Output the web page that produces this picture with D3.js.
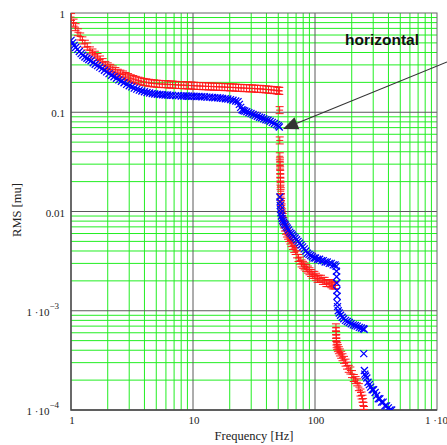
<!DOCTYPE html>
<meta charset="utf-8">
<html>
<head>
<title>RMS vs frequency</title>
<script src="https://d3js.org/d3.v7.min.js"></script>
<style>
  body { margin: 0; background: #fff; }
  .tick { font-family: "Liberation Serif", "DejaVu Serif", serif; font-size: 11px; fill: #222; }
  .title { font-family: "Liberation Serif", "DejaVu Serif", serif; font-size: 12.5px; fill: #222; }
  .note { font-family: "Liberation Sans", Arial, sans-serif; font-size: 15.5px; font-weight: bold; fill: #111; }
</style>
</head>
<body>
<svg width="447" height="445"></svg>
<script>
  // ticks
  var xTicks = [1, 10, 100, 1000];
  var xLabels = [["1"], ["10"], ["100"], ["1 \u00b710", "3"]];
  var yTicks = [1, 0.1, 0.01, 0.001, 0.0001];
  var yLabels = [["1"], ["0.1"], ["0.01"], ["1 \u00b710", "\u22123"], ["1 \u00b710", "\u22124"]];

  // red series  [frequency Hz, rms]
  var red = [
    [1.00,.91],[1.05,.80],[1.09,.72],[1.14,.64],[1.19,.58],[1.24,.53],[1.30,.49],[1.36,.46],
    [1.43,.42],[1.50,.40],[1.57,.38],[1.65,.36],[1.73,.34],[1.82,.32],[1.91,.30],[2.00,.29],
    [2.10,.28],[2.20,.27],[2.31,.26],[2.42,.25],[2.54,.245],[2.67,.24],[2.80,.232],[2.94,.226],
    [3.09,.22],[3.24,.216],[3.40,.212],[3.57,.208],[3.75,.205],[3.94,.202],[4.14,.20],[4.35,.198],
    [4.57,.196],[4.80,.195],[5.04,.194],[5.3,.193],[5.6,.192],[5.9,.192],[6.2,.191],[6.5,.19],
    [6.8,.19],[7.2,.189],[7.6,.188],[8.0,.188],[8.4,.187],[8.8,.187],[9.2,.186],[9.7,.186],
    [10.2,.185],[10.8,.184],[11.4,.184],[12.0,.183],[12.7,.183],[13.4,.182],[14.1,.182],[14.8,.181],
    [15.6,.181],[16.4,.18],[17.3,.18],[18.2,.179],[19.2,.179],[20.2,.178],[21.3,.178],[22.4,.177],
    [23.6,.176],[24.8,.176],[26.1,.175],[27.5,.175],[29.0,.174],[30.5,.174],[32.1,.173],[33.8,.172],
    [35.6,.172],[37.5,.171],[39.5,.17],[41.6,.169],[43.8,.168],[46.1,.167],[48.5,.166],[50.4,.165],
    [51.0,.164],
    [51.3,.105],[51.4,.052],[51.5,.036],[51.6,.032],[51.7,.029],[51.8,.026],[51.9,.024],[52.0,.022],
    [52.1,.020],[52.2,.018],[52.4,.016],[52.6,.014],[52.9,.0125],[53.3,.011],[53.8,.0098],[54.4,.0088],
    [55.1,.008],[55.9,.0074],[56.8,.0069],[57.8,.0064],[58.9,.006],[60.1,.0057],[61.4,.0054],[62.8,.0051],
    [64.3,.0048],[65.9,.0045],[67.6,.0042],[69.4,.004],[71.3,.0037],[73.3,.0034],[75.4,.0032],[77.6,.003],
    [79.9,.0029],[82.3,.0028],[84.8,.0027],[87.4,.0026],[90.1,.0025],[92.9,.0024],[95.8,.0023],[98.8,.0023],
    [102,.0022],[105,.0021],[108,.0021],[112,.0021],[116,.002],[120,.002],[124,.0019],[128,.0019],
    [132,.0019],[136,.00185],[140,.0018],[144,.0018],[147,.0018],
    [148.5,.00068],[148.8,.00062],[149.1,.00057],[149.4,.00053],[149.8,.00049],[150.5,.00046],[152,.00044],[154,.00042],
    [157,.0004],[160,.00038],[164,.00036],[168,.00034],[173,.00032],[178,.0003],[183,.00028],[189,.00026],
    [195,.00025],[201,.00023],[208,.00021],[215,.0002],[222,.00019],[229,.00017],[236,.00015],[241,.00014],
    [245,.00013],[248,.00012],[250,.00011],[252,.0001],[254,.00009]
  ];

  // blue series  [frequency Hz, rms]
  var blue = [
    [1.00,.53],[1.03,.50],[1.06,.47],[1.09,.45],[1.13,.43],[1.17,.41],[1.21,.39],[1.25,.375],
    [1.30,.36],[1.35,.35],[1.40,.34],[1.46,.33],[1.52,.315],[1.58,.305],[1.65,.295],[1.72,.285],
    [1.80,.275],[1.88,.265],[1.96,.255],[2.05,.245],[2.15,.236],[2.25,.228],[2.36,.22],[2.47,.212],
    [2.59,.205],[2.72,.198],[2.86,.191],[3.0,.185],[3.15,.18],[3.3,.175],[3.46,.171],[3.63,.167],
    [3.81,.164],[4.0,.161],[4.2,.158],[4.41,.156],[4.63,.154],[4.86,.153],[5.1,.152],[5.36,.151],
    [5.63,.15],[5.9,.149],[6.2,.149],[6.5,.148],[6.8,.148],[7.2,.147],[7.6,.147],[8.0,.146],
    [8.4,.146],[8.8,.146],[9.2,.145],[9.7,.145],[10.2,.145],[10.7,.144],[11.2,.144],[11.8,.143],
    [12.4,.143],[13.0,.142],[13.7,.142],[14.4,.141],[15.1,.14],[15.9,.14],[16.7,.139],[17.5,.138],
    [18.4,.137],[19.3,.136],[20.3,.134],[21.3,.132],[22.4,.13],[23.4,.128],[24.0,.12],[24.6,.112],
    [25.2,.106],[25.8,.104],[26.6,.103],[27.6,.101],[28.7,.099],[29.9,.097],[31.1,.095],[32.4,.093],
    [33.7,.091],[35.1,.089],[36.5,.088],[38.0,.086],[39.6,.084],[41.2,.083],[42.9,.081],[44.7,.079],
    [46.5,.077],[48.4,.075],[50.0,.073],[51.0,.071],
    [51.5,.014],[51.7,.0125],[51.9,.0115],[52.2,.0105],[52.6,.0097],[53.1,.009],[53.7,.0085],[54.4,.0081],
    [55.2,.0078],[56.1,.0075],[57.1,.0073],[58.2,.007],[59.4,.0068],[60.7,.0065],[62.1,.0062],[63.6,.006],
    [65.2,.0058],[66.9,.0056],[68.7,.0054],[70.6,.0052],[72.6,.005],[74.7,.0048],[76.9,.0046],[79.2,.0044],
    [81.6,.0042],[84.1,.004],[86.7,.0038],[89.4,.0037],[92.2,.0036],[95.1,.0035],[98.1,.0034],[101,.0034],
    [105,.0033],[109,.0033],[113,.0032],[117,.0032],[121,.0031],[126,.0031],[131,.003],[136,.003],
    [141,.0029],[146,.0029],[149,.0028],
    [150,.0025],[150.4,.0022],[150.8,.0019],[151.2,.0016],[151.6,.0014],[152,.0012],[153,.0011],[155,.001],
    [158,.00095],[162,.0009],[167,.00086],[172,.00083],[178,.0008],[184,.00078],[191,.00076],[198,.00074],
    [206,.00072],[214,.00071],[222,.0007],[231,.00068],[240,.00067],[249,.00066],[253,.00065],
    [251,.00037],
    [254,.00025],[256,.00023],[260,.00022],[266,.00021],[272,.00019],[279,.00018],[286,.00017],[294,.00016],
    [302,.00016],[311,.00015],[320,.00014],[330,.00013],[340,.00013],[351,.00012],[362,.00012],[374,.00011],
    [386,.00011],[399,.000105],[412,.0001],[425,.0001],[439,.00009]
  ];

  // annotation: text and arrow (tail, tip) in data units
  var noteText = "horizontal";
  var arrowTail = [1208, 0.321];
  var arrowTip = [54.7, 0.0678];

  var svg = d3.select("svg");
  var pLeft = 71, pRight = 437, pTop = 13, pBottom = 410;

  var x = d3.scaleLog().domain([1, 1000]).range([pLeft, pRight]);
  var y = d3.scaleLog().domain([1e-4, 1]).range([pBottom, pTop]);

  svg.append("defs").append("clipPath").attr("id", "clip")
    .append("rect").attr("x", pLeft).attr("y", pTop)
    .attr("width", pRight - pLeft).attr("height", pBottom - pTop);

  // minor grid
  var xMinor = [], yMinor = [];
  [1, 10, 100].forEach(function(d) { for (var k = 2; k < 10; k++) xMinor.push(d * k); });
  [1e-4, 1e-3, 1e-2, 1e-1].forEach(function(d) { for (var k = 2; k < 10; k++) yMinor.push(d * k); });

  var grid = svg.append("g");
  grid.selectAll(".gx").data(xMinor).enter().append("line")
    .attr("x1", x).attr("x2", x).attr("y1", pTop).attr("y2", pBottom)
    .attr("stroke", "#22ee22").attr("stroke-width", 1);
  grid.selectAll(".gy").data(yMinor).enter().append("line")
    .attr("y1", y).attr("y2", y).attr("x1", pLeft).attr("x2", pRight)
    .attr("stroke", "#22ee22").attr("stroke-width", 1);

  // major lines
  grid.selectAll(".mx").data([10, 100]).enter().append("line")
    .attr("x1", x).attr("x2", x).attr("y1", pTop).attr("y2", pBottom)
    .attr("stroke", "#5a5a5a");
  grid.selectAll(".my").data([0.1, 0.01, 0.001]).enter().append("line")
    .attr("y1", y).attr("y2", y).attr("x1", pLeft).attr("x2", pRight)
    .attr("stroke", "#5a5a5a");

  // frame
  svg.append("rect").attr("x", pLeft).attr("y", pTop)
    .attr("width", pRight - pLeft).attr("height", pBottom - pTop)
    .attr("fill", "none").attr("stroke", "#666");
  svg.append("path").attr("d", "M" + pLeft + "," + pTop + "V" + pBottom + "H" + pRight)
    .attr("fill", "none").attr("stroke", "#444").attr("stroke-width", 1.3);

  // data
  var plot = svg.append("g").attr("clip-path", "url(#clip)");
  plot.selectAll(".r").data(red).enter().append("path")
    .attr("transform", function(d) { return "translate(" + x(d[0]) + "," + y(d[1]) + ")"; })
    .attr("d", "M-4,-3.5H4M-3.5,0H3.5M-4,3.5H4M0,-3.5V3.5")
    .attr("fill", "none").attr("stroke", "#ff1a1a").attr("stroke-width", 1);
  plot.selectAll(".b").data(blue).enter().append("path")
    .attr("transform", function(d) { return "translate(" + x(d[0]) + "," + y(d[1]) + ")"; })
    .attr("d", "M-3.5,-3.5L3.5,3.5M-3.5,3.5L3.5,-3.5")
    .attr("fill", "none").attr("stroke", "#0000ff").attr("stroke-width", 1.3);

  // tick labels
  yTicks.forEach(function(v, i) {
    var lab = yLabels[i];
    var t = svg.append("text").attr("class", "tick")
      .attr("text-anchor", "end")
      .attr("x", lab.length > 1 ? 59 : 65)
      .attr("y", y(v) + 5)
      .text(lab[0]);
    if (lab.length > 1) t.append("tspan").attr("dy", -7).attr("font-size", "9px").text(lab[1]);
  });
  xTicks.forEach(function(v, i) {
    var lab = xLabels[i];
    var t = svg.append("text").attr("class", "tick")
      .attr("text-anchor", lab.length > 1 ? "start" : "middle")
      .attr("x", lab.length > 1 ? x(v) - 12 : x(v) + 1)
      .attr("y", 424)
      .text(lab[0]);
    if (lab.length > 1) t.append("tspan").attr("dy", -7).attr("font-size", "9px").text(lab[1]);
  });

  // axis titles
  svg.append("text").attr("class", "title")
    .attr("text-anchor", "middle").attr("x", 254).attr("y", 440)
    .text("Frequency [Hz]");
  svg.append("text").attr("class", "title")
    .attr("text-anchor", "middle")
    .attr("transform", "translate(21,210) rotate(-90)")
    .text("RMS [mu]");

  // annotation
  svg.append("text").attr("class", "note")
    .attr("x", 345).attr("y", 45).text(noteText);

  var tx = x(arrowTail[0]), ty = y(arrowTail[1]);
  var hx = x(arrowTip[0]), hy = y(arrowTip[1]);
  var dx = hx - tx, dy = hy - ty, len = Math.sqrt(dx * dx + dy * dy);
  var ux = dx / len, uy = dy / len;
  var hl = 15, hw = 6.5;
  var bx = hx - ux * hl, by = hy - uy * hl;
  svg.append("line").attr("x1", tx).attr("y1", ty).attr("x2", bx).attr("y2", by)
    .attr("stroke", "#333").attr("stroke-width", 1.1);
  svg.append("path")
    .attr("d", "M" + hx + "," + hy +
      "L" + (bx - uy * hw) + "," + (by + ux * hw) +
      "L" + (bx + uy * hw) + "," + (by - ux * hw) + "Z")
    .attr("fill", "#333");
</script>
</body>
</html>
